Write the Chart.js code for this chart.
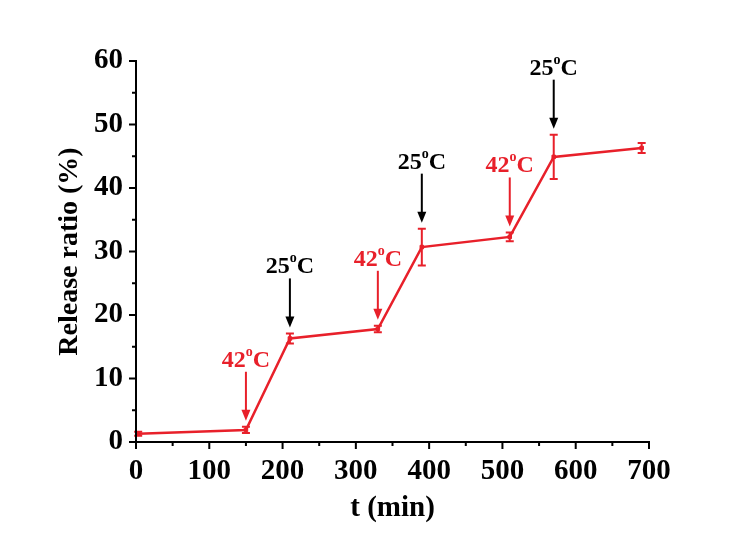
<!DOCTYPE html>
<html>
<head>
<meta charset="utf-8">
<script src="https://cdn.jsdelivr.net/npm/chart.js@4.4.1/dist/chart.umd.min.js"></script>
<style>
  html, body { margin: 0; padding: 0; background: #fff; }
  #wrap { width: 755px; height: 534px; position: relative; }
</style>
</head>
<body>
<div id="wrap"><canvas id="releaseChart"></canvas></div>
<script>
/* ==================== DATA ==================== */
const timeMin = [3, 150, 210, 330, 390, 510, 570, 690];
const releaseRatio = [1.3, 1.9, 16.3, 17.8, 30.7, 32.3, 44.9, 46.3];
const releaseErr = [0.3, 0.5, 0.8, 0.5, 2.9, 0.7, 3.5, 0.8];

// temperature switches (arrows)
const switchTimes = [150, 210, 330, 390, 510, 570];
const switchTemps = ['42', '25', '42', '25', '42', '25'];

const xTicks = [0, 100, 200, 300, 400, 500, 600, 700];
const yTicks = [0, 10, 20, 30, 40, 50, 60];

const RED = '#e8202a';
const FONT = '"Liberation Serif", "Times New Roman", serif';

/* ==================== PLUGINS ==================== */
// axis lines + major/minor tick marks
const axesPlugin = {
  id: 'axesPlugin',
  afterDraw(chart) {
    const { ctx, chartArea: a, scales: { x, y } } = chart;
    ctx.save();
    ctx.strokeStyle = '#000';
    ctx.lineWidth = 2;
    ctx.beginPath();
    ctx.moveTo(a.left, a.top - 1);
    ctx.lineTo(a.left, a.bottom);
    ctx.lineTo(a.right + 1, a.bottom);
    ctx.stroke();

    ctx.beginPath();
    xTicks.forEach((v, i) => {
      const px = x.getPixelForValue(v);
      ctx.moveTo(px, a.bottom); ctx.lineTo(px, a.bottom + 7);
      if (i < xTicks.length - 1) {
        const mx = x.getPixelForValue((v + xTicks[i + 1]) / 2);
        ctx.moveTo(mx, a.bottom); ctx.lineTo(mx, a.bottom + 4);
      }
    });
    yTicks.forEach((v, i) => {
      const py = y.getPixelForValue(v);
      ctx.moveTo(a.left, py); ctx.lineTo(a.left - 7, py);
      if (i < yTicks.length - 1) {
        const my = y.getPixelForValue((v + yTicks[i + 1]) / 2);
        ctx.moveTo(a.left, my); ctx.lineTo(a.left - 4, my);
      }
    });
    ctx.stroke();
    ctx.restore();
  }
};

// vertical error bars with caps
const errorBarPlugin = {
  id: 'errorBarPlugin',
  afterDatasetsDraw(chart) {
    const { ctx, scales: { x, y } } = chart;
    ctx.save();
    ctx.strokeStyle = RED;
    ctx.lineWidth = 2;
    ctx.beginPath();
    timeMin.forEach((t, i) => {
      const px = x.getPixelForValue(t);
      const top = y.getPixelForValue(releaseRatio[i] + releaseErr[i]);
      const bot = y.getPixelForValue(releaseRatio[i] - releaseErr[i]);
      ctx.moveTo(px, top); ctx.lineTo(px, bot);
      ctx.moveTo(px - 4, top); ctx.lineTo(px + 4, top);
      ctx.moveTo(px - 4, bot); ctx.lineTo(px + 4, bot);
    });
    ctx.stroke();
    ctx.restore();
  }
};

// temperature arrows and labels
const switchPlugin = {
  id: 'switchPlugin',
  afterDraw(chart) {
    const { ctx, scales: { x, y } } = chart;
    ctx.save();
    switchTimes.forEach((t, i) => {
      const k = timeMin.indexOf(t);
      const col = switchTemps[i] === '42' ? RED : '#000';
      const px = x.getPixelForValue(t);
      const top = y.getPixelForValue(releaseRatio[k] + releaseErr[k]);
      const tip = top - 6;
      const start = tip - 49;

      ctx.strokeStyle = col;
      ctx.fillStyle = col;
      ctx.lineWidth = 2;
      ctx.beginPath();
      ctx.moveTo(px, start);
      ctx.lineTo(px, tip - 9);
      ctx.stroke();
      ctx.beginPath();
      ctx.moveTo(px - 4.5, tip - 11);
      ctx.lineTo(px + 4.5, tip - 11);
      ctx.lineTo(px, tip);
      ctx.closePath();
      ctx.fill();

      // label: NN + superscript o + C
      const big = 'bold 24px ' + FONT;
      const small = 'bold 14px ' + FONT;
      ctx.font = big;
      const w1 = ctx.measureText(switchTemps[i]).width;
      const w3 = ctx.measureText('C').width;
      ctx.font = small;
      const w2 = ctx.measureText('o').width;
      const total = w1 + w2 + w3;
      const base = start - 5;
      let cx = px - total / 2;
      ctx.textBaseline = 'alphabetic';
      ctx.textAlign = 'left';
      ctx.font = big;
      ctx.fillText(switchTemps[i], cx, base);
      cx += w1;
      ctx.font = small;
      ctx.fillText('o', cx, base - 11);
      cx += w2;
      ctx.font = big;
      ctx.fillText('C', cx, base);
    });
    ctx.restore();
  }
};

/* ==================== CHART ==================== */
const points = timeMin.map((t, i) => ({ x: t, y: releaseRatio[i] }));

new Chart(document.getElementById('releaseChart'), {
  type: 'line',
  data: {
    datasets: [{
      label: 'Release ratio',
      data: points,
      borderColor: RED,
      backgroundColor: RED,
      borderWidth: 2.5,
      tension: 0,
      pointStyle: 'rect',
      pointRadius: 2.5,
      pointBorderWidth: 1,
      pointBackgroundColor: RED,
      pointBorderColor: RED
    }]
  },
  options: {
    responsive: true,
    maintainAspectRatio: false,
    animation: false,
    layout: { padding: { left: 0, right: 106, top: 61, bottom: 0 } },
    plugins: { legend: { display: false }, tooltip: { enabled: false } },
    scales: {
      x: {
        type: 'linear',
        min: 0, max: 700,
        afterFit: s => { s.height = 92; },
        afterBuildTicks: s => { s.ticks = xTicks.map(v => ({ value: v })); },
        grid: { display: false, drawTicks: false },
        border: { display: false },
        ticks: { padding: 12, color: '#000', font: { family: FONT, size: 29, weight: 'bold' } },
        title: {
          display: true, text: 't (min)', color: '#000',
          font: { family: FONT, size: 29, weight: 'bold' },
          padding: { top: 0, bottom: 8 }
        }
      },
      y: {
        min: 0, max: 60,
        afterFit: s => { s.width = 136; },
        afterBuildTicks: s => { s.ticks = yTicks.map(v => ({ value: v })); },
        grid: { display: false, drawTicks: false },
        border: { display: false },
        ticks: { padding: 13, color: '#000', font: { family: FONT, size: 29, weight: 'bold' } },
        title: {
          display: true, text: 'Release ratio (%)', color: '#000',
          font: { family: FONT, size: 28, weight: 'bold' },
          padding: { top: 53, bottom: 0 }
        }
      }
    }
  },
  plugins: [axesPlugin, errorBarPlugin, switchPlugin]
});
</script>
</body>
</html>
